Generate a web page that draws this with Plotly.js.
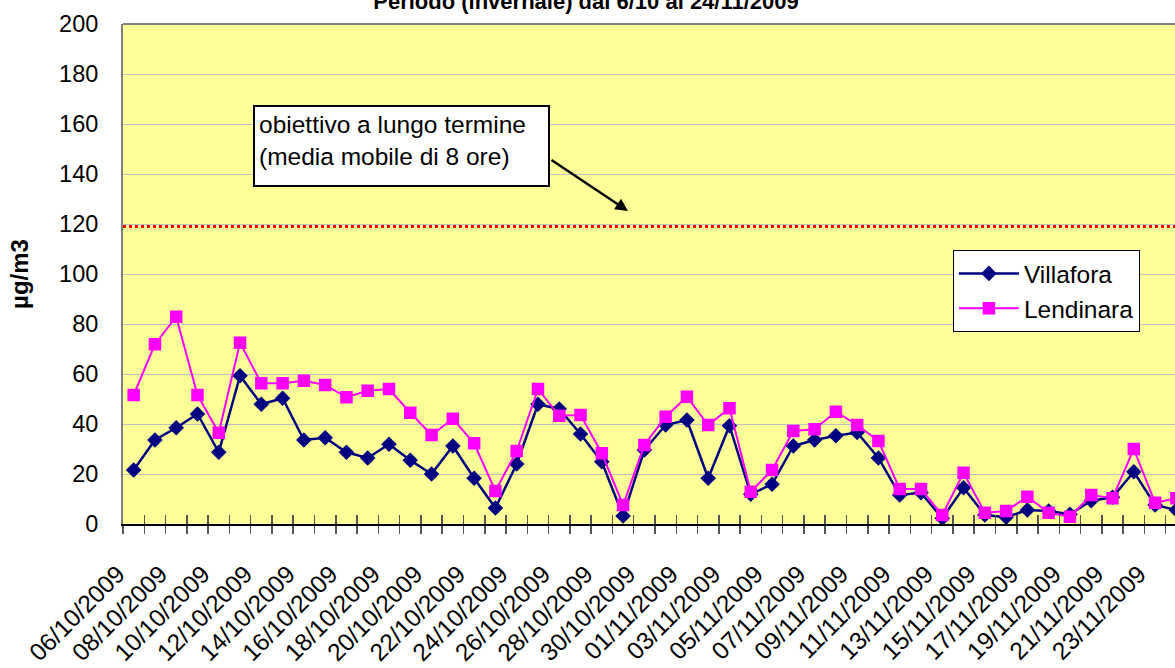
<!DOCTYPE html>
<html>
<head>
<meta charset="utf-8">
<script src="https://cdn.plot.ly/plotly-3.0.1.min.js"></script>
<style>
html, body { margin: 0; padding: 0; overflow: hidden; background: #fff; }
#chart { width: 1195px; height: 668px; }
</style>
</head>
<body>
<div id="chart"></div>
<script>
const dates = [
  "06/10/2009","07/10/2009","08/10/2009","09/10/2009","10/10/2009","11/10/2009","12/10/2009","13/10/2009",
  "14/10/2009","15/10/2009","16/10/2009","17/10/2009","18/10/2009","19/10/2009","20/10/2009","21/10/2009",
  "22/10/2009","23/10/2009","24/10/2009","25/10/2009","26/10/2009","27/10/2009","28/10/2009","29/10/2009",
  "30/10/2009","31/10/2009","01/11/2009","02/11/2009","03/11/2009","04/11/2009","05/11/2009","06/11/2009",
  "07/11/2009","08/11/2009","09/11/2009","10/11/2009","11/11/2009","12/11/2009","13/11/2009","14/11/2009",
  "15/11/2009","16/11/2009","17/11/2009","18/11/2009","19/11/2009","20/11/2009","21/11/2009","22/11/2009",
  "23/11/2009","24/11/2009"
];
const villafora = [
  21.6, 33.6, 38.5, 44.0, 28.7, 59.3, 47.9, 50.3, 33.6, 34.5,
  28.7, 26.4, 31.9, 25.5, 20.0, 31.2, 18.3, 6.4, 24.0, 47.9,
  46.0, 36.0, 24.9, 3.2, 29.6, 39.6, 41.6, 18.3, 39.3, 11.9,
  15.9, 31.2, 33.6, 35.3, 36.6, 26.4, 11.6, 12.5, 2.3, 14.5,
  3.6, 2.7, 5.6, 5.2, 3.9, 9.3, 10.7, 20.9, 7.6, 5.6
];
const lendinara = [
  51.6, 71.9, 82.9, 51.6, 36.5, 72.5, 56.3, 56.3, 57.3, 55.6,
  50.7, 53.3, 54.0, 44.5, 35.6, 42.1, 32.3, 13.2, 29.2, 54.0,
  43.3, 43.6, 28.3, 7.6, 31.6, 42.9, 50.9, 39.6, 46.3, 12.9,
  21.6, 37.2, 37.9, 44.9, 39.6, 33.2, 14.0, 14.0, 3.6, 20.5,
  4.5, 5.2, 10.9, 4.5, 2.9, 11.6, 10.3, 30.0, 8.5, 10.3
];
const obiettivo = 119;
const titleText = "Periodo (invernale) dal 6/10 al 24/11/2009";
const yTitle = "µg/m3";
const noteText = "obiettivo a lungo termine<br>(media mobile di 8 ore)";

const tickText = dates.map((d, i) => (i % 2 === 0 ? d : ""));
const font = "Liberation Sans, Arial, sans-serif";

const traces = [
  {
    x: dates, y: villafora, name: "Villafora", type: "scatter", mode: "lines+markers",
    line: { color: "#000080", width: 2.5 },
    marker: { symbol: "diamond", size: 12, color: "#000080" },
    legendgroup: "a"
  },
  {
    x: dates, y: lendinara, name: "Lendinara", type: "scatter", mode: "lines+markers",
    line: { color: "#FF00FF", width: 2 },
    marker: { symbol: "square", size: 12.5, color: "#FF00FF" },
    legendgroup: "b"
  },
  {
    x: dates, y: dates.map(() => null), xaxis: "x2", type: "scatter", mode: "lines",
    showlegend: false, hoverinfo: "skip"
  }
];

const layout = {
  width: 1195, height: 668,
  margin: { l: 123, r: 8, t: 24, b: 144 },
  paper_bgcolor: "#FFFFFF",
  plot_bgcolor: "#FFFF99",
  font: { family: font, color: "#000000", size: 24 },
  title: {
    text: "<b>" + titleText + "</b>",
    font: { family: font, size: 22, color: "#000000" },
    xref: "container", x: 586 / 1195, xanchor: "center",
    yref: "container", y: 1 - 1 / 668, yanchor: "middle"
  },
  xaxis: {
    type: "category", categoryorder: "array", categoryarray: dates,
    range: [-0.5, dates.length - 0.5],
    tickmode: "array", tickvals: dates, ticktext: tickText,
    tickson: "boundaries", ticks: "outside", ticklen: 8, tickwidth: 1.5, tickcolor: "#555555",
    tickangle: -45, ticklabelstandoff: 24, ticklabelshift: -16,
    tickfont: { family: font, size: 24.5, color: "#000000" },
    showline: true, linecolor: "#000000", linewidth: 2,
    showgrid: false, zeroline: false
  },
  xaxis2: {
    type: "category", categoryorder: "array", categoryarray: dates,
    overlaying: "x", anchor: "y", side: "bottom",
    range: [-0.5, dates.length - 0.5],
    tickmode: "array", tickvals: dates,
    tickson: "boundaries", ticks: "inside", ticklen: 9, tickwidth: 1.5, tickcolor: "#555555",
    showticklabels: false, showline: false, showgrid: false, zeroline: false
  },
  yaxis: {
    range: [0, 200], dtick: 20, tick0: 0,
    ticks: "", ticklabelstandoff: 18,
    tickfont: { family: font, size: 23.5, color: "#000000" },
    showline: true, linecolor: "#808080", linewidth: 2,
    showgrid: true, gridcolor: "#C0C0C0", gridwidth: 1,
    zeroline: false,
    title: { text: "<b>" + yTitle + "</b>", font: { family: font, size: 24, color: "#000000" }, standoff: 24 }
  },
  legend: {
    x: 0.78, y: 0.548, xanchor: "left", yanchor: "top",
    bgcolor: "#FFFFFF", bordercolor: "#000000", borderwidth: 1,
    font: { family: font, size: 24.5, color: "#000000" },
    itemwidth: 60, tracegroupgap: 16,
    traceorder: "normal"
  },
  shapes: [
    {
      type: "line", xref: "paper", x0: 0, x1: 1, yref: "y", y0: obiettivo, y1: obiettivo,
      line: { color: "#FF0000", width: 3, dash: "dot" }
    },
    {
      type: "line", xref: "paper", x0: 0, x1: 1, yref: "paper", y0: 1, y1: 1,
      line: { color: "#808080", width: 2 }
    }
  ],
  annotations: [
    {
      text: noteText, xref: "paper", yref: "paper",
      x: 0.2616, y: 0.756, xanchor: "center", yanchor: "middle",
      showarrow: false, align: "left", valign: "top",
      font: { family: font, size: 24.5, color: "#000000" },
      bgcolor: "#FFFFFF", bordercolor: "#000000", borderwidth: 2, borderpad: 4,
      width: 285, height: 70
    },
    {
      text: "", xref: "paper", yref: "paper",
      x: 0.4746, y: 0.626, ax: -78, ay: -52,
      showarrow: true, arrowhead: 2, arrowsize: 1, arrowwidth: 2.5, arrowcolor: "#000000"
    }
  ],
  showlegend: true
};

Plotly.newPlot("chart", traces, layout, { displayModeBar: false, staticPlot: true });
</script>
</body>
</html>
